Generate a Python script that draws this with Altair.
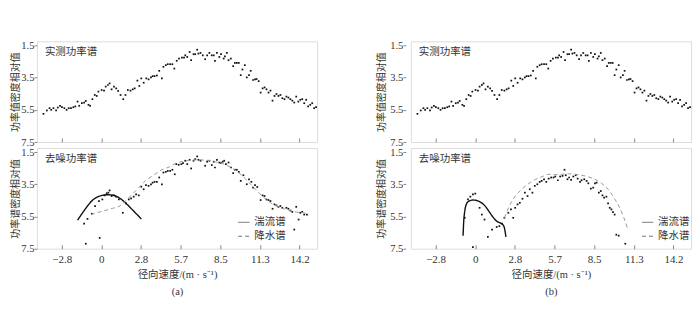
import altair as alt
import pandas as pd

# ---------------- data ----------------
X_TICKS = [-2.83, 0, 2.83, 5.66, 8.49, 11.32, 14.15]
Y_TICKS = [1.5, 3.5, 5.5, 7.5]
X_DOMAIN = [-4.6, 15.4]
Y_DOMAIN = [1.25, 7.5]
SERIES = ["湍流谱", "降水谱"]

# measured spectrum (same in (a) and (b))
MEAS_V = [-4.13, -3.89, -3.70, -3.58, -3.42, -3.23, -3.11, -2.95, -2.81, -2.64,
          -2.48, -2.33, -2.17, -2.00, -1.86, -1.70, -1.58, -1.39, -1.23, -1.11,
          -0.92, -0.80, -0.64, -0.47, -0.33, -0.21, 0.02, 0.19, 0.31, 0.47,
          0.59, 0.73, 0.90, 1.06, 1.20, 1.37, 1.56, 1.72, 1.89, 2.08,
          2.24, 2.38, 2.57, 2.71, 2.85, 3.02, 3.21, 3.37, 3.54, 3.66,
          3.80, 3.96, 4.13, 4.32, 4.43, 4.60, 4.74, 4.91, 5.07, 5.21,
          5.38, 5.54,
          5.75, 5.90, 5.99, 6.13, 6.30, 6.41, 6.58, 6.70, 6.84, 6.93,
          7.08, 7.24, 7.41, 7.55, 7.71, 7.88, 8.02, 8.11, 8.25, 8.42,
          8.54, 8.73, 8.82, 8.96, 9.08, 9.24, 9.41, 9.53, 9.67, 9.81,
          9.95, 10.07, 10.24, 10.38, 10.54, 10.66, 10.83, 10.97, 11.08, 11.23,
          11.37, 11.51, 11.65, 11.79, 11.93, 12.07, 12.22, 12.36, 12.50, 12.64,
          12.78, 12.92, 13.07, 13.21, 13.35, 13.49, 13.63, 13.77, 13.91, 14.06,
          14.20, 14.34, 14.48, 14.62, 14.76, 14.91, 15.05, 15.19, 15.33]
MEAS_P = [5.75, 5.54, 5.40, 5.50, 5.40, 5.54, 5.36, 5.25, 5.34, 5.40,
          5.50, 5.40, 5.40, 5.34, 5.29, 4.99, 5.25, 5.09, 5.05, 4.95,
          5.19, 5.25, 4.84, 4.58, 4.64, 4.37, 4.27, 4.31, 4.06, 3.96,
          3.86, 4.23, 4.06, 4.17, 4.33, 4.58, 4.84, 4.58, 4.27, 4.31,
          4.23, 4.17, 3.69, 4.02, 3.55, 3.82, 3.55, 3.61, 3.49, 3.41,
          3.41, 3.37, 3.08, 3.55, 2.83, 2.73, 2.67, 2.67, 2.67, 2.94,
          2.46, 2.32,
          2.26, 2.26, 2.12, 2.22, 1.91, 2.42, 2.05, 2.05, 1.77, 2.01,
          1.97, 2.12, 2.36, 2.12, 1.97, 2.12, 2.12, 2.46, 1.97, 2.22,
          2.05, 2.32, 2.18, 1.97, 2.42, 2.32, 2.79, 2.59, 2.59, 2.59,
          3.35, 3.00, 2.73, 3.49, 3.35, 3.08, 3.65, 3.61, 3.59, 3.72,
          4.43, 4.17, 4.11, 4.23, 4.43, 4.31, 4.93, 4.64, 4.52, 4.64,
          4.58, 4.78, 4.84, 4.68, 4.74, 4.84, 4.93, 5.05, 4.68, 4.99,
          4.88, 4.84, 5.09, 4.88, 5.29, 5.19, 5.09, 5.40, 5.34]

# (a) denoised spectrum
A_DOT_V = [-1.23, -1.11, -0.99, -0.68, -0.45, -0.17, -0.12, 0.07, 0.24, 0.38,
           0.50, 0.59, 0.73, 0.90, 1.06, 1.25, 1.53, 1.77, 1.96, 2.12,
           2.31, 2.48, 2.67, 2.85, 3.02, 3.18, 3.37, 3.54, 3.66, 3.80,
           3.96, 4.13, 4.32, 4.43, 4.60, 4.74, 4.91, 5.07,
           5.24, 5.35, 5.52, 5.71, 5.83, 5.99, 6.13, 6.30, 6.41, 6.58,
           6.70, 6.84, 6.93, 7.08, 7.41, 7.55, 7.71, 7.88, 8.02, 8.11,
           8.25, 8.42, 8.54, 8.66, 8.77, 8.89, 9.08, 9.25, 9.41, 9.53,
           9.67, 9.81, 9.95, 10.14, 10.38, 10.54, 10.71, 10.83, 10.97, 11.13,
           11.37, 11.51, 11.65, 11.79, 11.93, 12.07, 12.22, 12.36, 12.50, 12.64,
           12.78, 12.92, 13.21, 13.35, 13.49, 13.63, 13.77, 13.91, 14.08, 14.20,
           14.34, 14.48, 14.67]
A_DOT_P = [5.94, 7.19, 5.65, 5.33, 4.85, 4.54, 6.83, 4.44, 4.19, 4.06,
           4.02, 3.88, 4.23, 4.19, 4.27, 4.44, 5.27, 4.69, 4.44, 4.38,
           4.27, 4.13, 4.19, 3.65, 3.81, 3.56, 3.60, 3.50, 3.40, 3.35,
           3.35, 3.08, 3.50, 2.77, 2.73, 2.67, 2.67, 2.60,
           2.88, 2.25, 2.29, 2.25, 2.19, 2.04, 2.25, 1.98, 2.52, 2.04,
           1.94, 1.77, 1.98, 2.04, 2.35, 2.10, 2.04, 2.31, 2.10, 2.46,
           1.98, 2.15, 2.19, 2.10, 2.04, 2.25, 2.15, 2.46, 2.81, 2.60,
           2.60, 2.73, 3.29, 2.94, 3.50, 3.19, 3.35, 3.71, 3.56, 3.67,
           4.48, 4.19, 4.23, 4.44, 4.48, 4.54, 5.02, 4.75, 4.81, 4.90,
           4.85, 4.96, 4.96, 5.02, 5.13, 5.21, 6.31, 4.90, 5.69, 5.27,
           5.21, 5.38, 5.38]
A_TURB_V = [-1.70, -1.34, -0.99, -0.64, -0.28, 0.07, 0.42, 0.78, 1.13, 1.49,
            1.84, 2.19, 2.55, 2.85]
A_TURB_P = [5.73, 5.27, 4.85, 4.50, 4.29, 4.19, 4.15, 4.17, 4.27, 4.48,
            4.75, 5.06, 5.38, 5.65]
A_RAIN_V = [-0.75, 0.07, 0.78, 1.37, 1.72, 2.19, 2.67, 3.14, 3.73, 4.32,
            4.91, 5.24, 5.59, 5.94, 6.41, 6.89, 7.36, 7.83, 8.30, 8.77,
            9.25, 9.72, 10.19, 10.66, 11.13, 11.60, 12.08, 12.55, 13.02, 13.49,
            13.96, 14.43, 14.67]
A_RAIN_P = [5.38, 5.17, 5.00, 4.81, 4.54, 4.13, 3.71, 3.29, 2.94, 2.60,
            2.40, 2.22, 2.12, 2.06, 2.01, 1.98, 2.00, 2.04, 2.15, 2.25,
            2.46, 2.73, 3.08, 3.50, 3.92, 4.33, 4.65, 4.85, 5.02, 5.13,
            5.23, 5.27, 5.33]

# (b) denoised spectrum
B_DOT_V = [-0.75, -0.52, -0.35, -0.17, 0.00, -0.17, 0.31, 0.47, 0.66, 0.90,
           1.20, 1.53, 1.72, 1.91, 2.08, 2.36, 2.55, 2.71, 2.85, 3.02,
           3.18, 3.37, 3.54, 3.73, 3.89, 4.08, 4.25, 4.43, 4.60, 4.74,
           4.91, 5.07,
           5.24, 5.42, 5.59, 5.71, 5.90, 6.06, 6.23, 6.37, 6.46, 6.58,
           6.70, 6.84, 7.00, 7.17, 7.31, 7.48, 7.59, 7.78, 7.95, 8.07,
           8.25, 8.42, 8.54, 8.66, 8.82, 8.96, 9.08, 9.20, 9.36, 9.48,
           9.60, 9.72, 9.83, 9.95, 10.07, 10.24, 10.71]
B_DOT_P = [5.58, 4.44, 4.27, 4.13, 4.08, 7.40, 4.96, 5.38, 5.69, 6.77,
           6.31, 6.15, 6.10, 5.94, 5.58, 5.27, 5.06, 5.58, 4.96, 4.75,
           4.65, 4.40, 4.02, 4.23, 3.81, 4.02, 3.60, 3.50, 3.35, 3.29,
           3.19, 3.35,
           3.15, 3.08, 3.08, 3.02, 3.25, 3.02, 2.98, 2.60, 2.94, 3.19,
           3.08, 3.23, 3.02, 2.94, 3.15, 3.35, 3.25, 3.19, 3.29, 3.44,
           3.77, 3.71, 3.44, 3.40, 4.02, 3.92, 4.19, 4.33, 4.27, 4.69,
           4.96, 5.06, 5.23, 5.38, 6.63, 6.69, 7.19]
B_TURB_V = [-0.87, -0.83, -0.75, -0.64, -0.45, -0.17, 0.07, 0.35, 0.66, 0.97,
            1.25, 1.53, 1.77, 1.96, 2.08, 2.19]
B_TURB_P = [6.69, 5.90, 5.17, 4.75, 4.54, 4.48, 4.50, 4.60, 4.81, 5.17,
            5.52, 5.79, 5.90, 6.00, 6.21, 6.77]
B_RAIN_V = [2.08, 2.43, 2.90, 3.37, 3.84, 4.32, 4.79, 5.26, 5.71, 6.18,
            6.65, 7.12, 7.59, 8.07, 8.54, 9.01, 9.48, 9.95, 10.31, 10.61,
            10.90]
B_RAIN_P = [5.58, 4.85, 4.19, 3.77, 3.44, 3.19, 3.02, 2.88, 2.90, 2.88,
            2.85, 2.88, 2.94, 3.04, 3.19, 3.44, 3.81, 4.40, 4.96, 5.58,
            6.31]

# ---------------- styling ----------------
FONT = "Liberation Serif, Noto Sans CJK SC"
CJK = "Noto Sans CJK SC"
TXT = "#333333"
FRAME = "#8a8a8a"
W, H = 281, 101


def xscale():
    return alt.Scale(domain=X_DOMAIN, nice=False, zero=False)


def yscale():
    return alt.Scale(domain=Y_DOMAIN, reverse=True, nice=False, zero=False)


def x_axis(show_labels, caption=None):
    kw = dict(values=X_TICKS, grid=False, domain=False, offset=-4, tickSize=4,
              tickColor=FRAME, labelFont=FONT, labelFontSize=11, labelColor=TXT,
              labelPadding=5,
              labelExpr="datum.value == 0 ? '0' : format(datum.value, '.1f')")
    if show_labels:
        kw.update(labels=True, title=["径向速度/(m · s⁻¹)", caption],
                  titleFont=FONT, titleFontSize=10.5, titleFontWeight="normal",
                  titleColor=TXT, titlePadding=5, titleLineHeight=17)
    else:
        kw.update(labels=False, title=None)
    return alt.Axis(**kw)


def y_axis(title, tpad, offset):
    return alt.Axis(values=Y_TICKS, format=".1f", grid=False, domain=False,
                    tickSize=3, tickColor=FRAME, labelFont=FONT, labelFontSize=10.5,
                    labelColor=TXT, labelPadding=0, offset=offset, title=title,
                    titleFont=CJK, titleFontSize=10, titleFontWeight="normal",
                    titleColor=TXT, titlePadding=tpad)


def label(text):
    return alt.Chart(pd.DataFrame({"t": [text]})).mark_text(
        align="left", baseline="middle", font=CJK, fontSize=10.5, color=TXT
    ).encode(x=alt.value(8), y=alt.value(11), text="t:N")


def top_panel(tpad, offset):
    df = pd.DataFrame({"v": MEAS_V, "p": MEAS_P})
    dots = alt.Chart(df).mark_square(size=3, color="#111", opacity=1).encode(
        x=alt.X("v:Q", scale=xscale(), axis=x_axis(False)),
        y=alt.Y("p:Q", scale=yscale(), axis=y_axis("功率值密度相对值", tpad, offset)),
    )
    return alt.layer(dots, label("实测功率谱")).properties(width=W, height=H)


def bottom_panel(dv, dp, tv, tp, rv, rp, caption, legend_x, tpad, offset):
    ddf = pd.DataFrame({"v": dv, "p": dp})
    ldf = pd.concat([
        pd.DataFrame({"v": tv, "p": tp, "s": SERIES[0], "i": range(len(tv))}),
        pd.DataFrame({"v": rv, "p": rp, "s": SERIES[1], "i": range(len(rv))}),
    ])
    xa = x_axis(True, caption)
    ya = y_axis("功率谱密度相对值", tpad, offset)
    dots = alt.Chart(ddf).mark_square(size=3, color="#111", opacity=1).encode(
        x=alt.X("v:Q", scale=xscale(), axis=xa),
        y=alt.Y("p:Q", scale=yscale(), axis=ya),
    )
    is_turb = alt.datum.s == SERIES[0]
    lines = alt.Chart(ldf).mark_line(interpolate="monotone").encode(
        x=alt.X("v:Q", scale=xscale(), axis=xa),
        y=alt.Y("p:Q", scale=yscale(), axis=ya),
        order="i:Q",
        color=alt.condition(is_turb, alt.value("#111111"), alt.value("#9a9a9a")),
        strokeWidth=alt.condition(is_turb, alt.value(1.4), alt.value(1.0)),
        strokeDash=alt.StrokeDash(
            "s:N", scale=alt.Scale(domain=SERIES, range=[[1, 0], [4, 3]]),
            legend=alt.Legend(orient="none", legendX=legend_x, legendY=175, title=None,
                              symbolType="stroke", symbolStrokeColor="#777777",
                              symbolStrokeWidth=1, symbolSize=130,
                              labelFont=CJK, labelFontSize=10.5, labelColor=TXT,
                              labelOffset=4, rowPadding=2),
        ),
    )
    return alt.layer(dots, lines, label("去噪功率谱")).properties(width=W, height=H)


col_a = alt.vconcat(top_panel(0, 0),
                    bottom_panel(A_DOT_V, A_DOT_P, A_TURB_V, A_TURB_P, A_RAIN_V, A_RAIN_P,
                                 "(a)", 201, 0, 0),
                    spacing=-6)
col_b = alt.vconcat(top_panel(3, 5),
                    bottom_panel(B_DOT_V, B_DOT_P, B_TURB_V, B_TURB_P, B_RAIN_V, B_RAIN_P,
                                 "(b)", 231, 3, 5),
                    spacing=-6)

chart = alt.hconcat(col_a, col_b, spacing=58).resolve_scale(
    strokeDash="independent"
).resolve_legend(strokeDash="independent").properties(
    padding={"left": 2, "top": 31, "right": 0, "bottom": 0}
).configure_view(stroke=FRAME, strokeWidth=1).configure(background="white")

chart.save("out.html", embed_options={"renderer": "svg", "actions": False})
